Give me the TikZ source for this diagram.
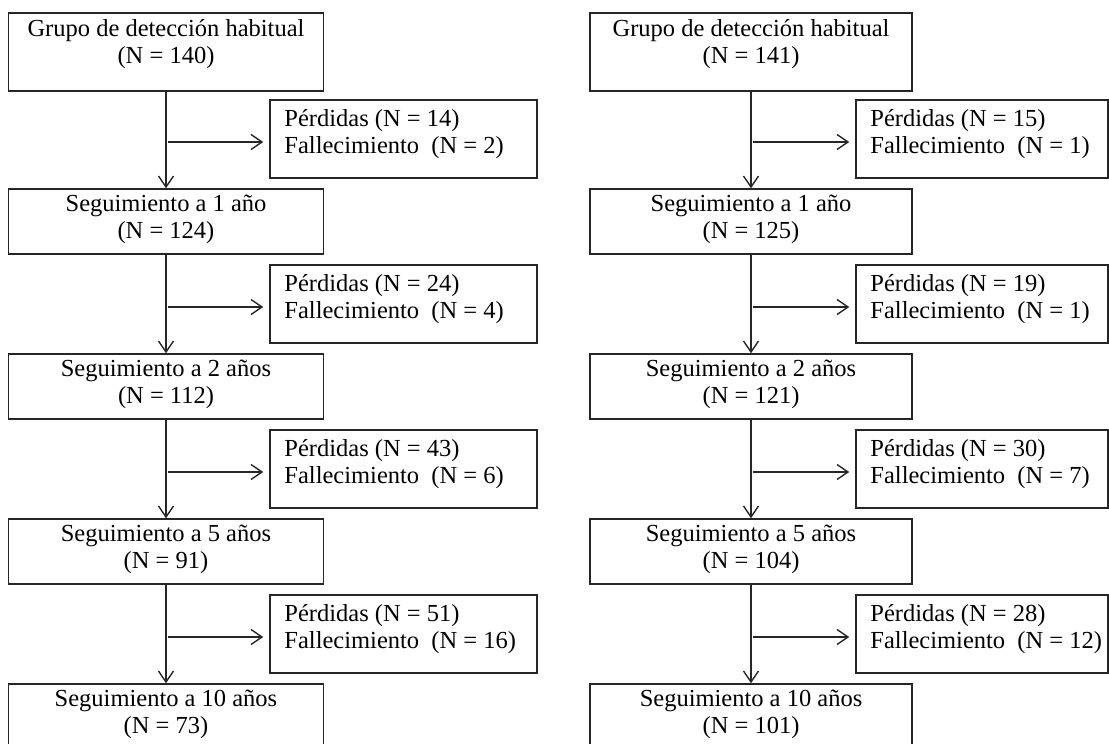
\documentclass[tikz,border=0pt]{standalone}
\usepackage{fontspec}
\setmainfont{Liberation Serif}
\usetikzlibrary{arrows.meta}
\begin{document}
\begin{tikzpicture}[x=1pt,y=-1pt,
  boxline/.style={draw=black!85, line width=1.5pt},
  txt/.style={font=\fontsize{24.5}{27}\selectfont},
  mainbox/.style={boxline, inner sep=0pt, minimum height=65pt},
  maintext/.style={txt, align=center, inner sep=0pt},
  sidebox/.style={boxline, inner sep=0pt, minimum height=78pt},
  sidetext/.style={txt, align=left, anchor=west, inner sep=0pt},
  flow/.style={draw=black!85, line width=1.5pt, -{Straight Barb[length=11pt,width=15pt,line width=1.4pt]}}
]
\useasboundingbox (0,0) rectangle (1109,744);
\clip (0,0) rectangle (1109,744);
% ---------- left column ----------
\node[mainbox, minimum width=315pt, minimum height=78pt] (L1) at (166,52) {};
\node[mainbox, minimum width=315pt] (L2) at (166,221.5) {};
\node[mainbox, minimum width=315pt] (L3) at (166,386.5) {};
\node[mainbox, minimum width=315pt] (L4) at (166,551.5) {};
\node[mainbox, minimum width=315pt] (L5) at (166,716.5) {};
\node[maintext] (LM1) at ([yshift=8pt]L1.center) {Grupo de detección habitual\\(N = 140)};
\node[maintext] (LM2) at ([yshift=2.5pt]L2.center) {Seguimiento a 1 año\\(N = 124)};
\node[maintext] (LM3) at ([yshift=2.5pt]L3.center) {Seguimiento a 2 años\\(N = 112)};
\node[maintext] (LM4) at ([yshift=2.5pt]L4.center) {Seguimiento a 5 años\\(N = 91)};
\node[maintext] (LM5) at ([yshift=2pt]L5.center) {Seguimiento a 10 años\\(N = 73)};
\node[sidebox, minimum width=267pt] (LS1) at (403.5,139) {};
\node[sidebox, minimum width=267pt] (LS2) at (403.5,304) {};
\node[sidebox, minimum width=267pt] (LS3) at (403.5,469) {};
\node[sidebox, minimum width=267pt] (LS4) at (403.5,634) {};
\node[sidetext] (LT1) at ([xshift=15pt,yshift=5pt]LS1.west) {Pérdidas (N = 14)\\Fallecimiento\ \ (N = 2)};
\node[sidetext] (LT2) at ([xshift=15pt,yshift=5pt]LS2.west) {Pérdidas (N = 24)\\Fallecimiento\ \ (N = 4)};
\node[sidetext] (LT3) at ([xshift=15pt,yshift=5pt]LS3.west) {Pérdidas (N = 43)\\Fallecimiento\ \ (N = 6)};
\node[sidetext] (LT4) at ([xshift=15pt,yshift=5pt]LS4.west) {Pérdidas (N = 51)\\Fallecimiento\ \ (N = 16)};
\draw[flow] (L1.south) -- (L2.north);
\draw[flow] (L2.south) -- (L3.north);
\draw[flow] (L3.south) -- (L4.north);
\draw[flow] (L4.south) -- (L5.north);
\coordinate (LA1) at (168,142);
\coordinate (LA2) at (168,307);
\coordinate (LA3) at (168,472);
\coordinate (LA4) at (168,637);
\draw[flow, shorten >=6pt] (LA1) -- (LA1 -| LS1.west);
\draw[flow, shorten >=6pt] (LA2) -- (LA2 -| LS2.west);
\draw[flow, shorten >=6pt] (LA3) -- (LA3 -| LS3.west);
\draw[flow, shorten >=6pt] (LA4) -- (LA4 -| LS4.west);
% ---------- right column ----------
\node[mainbox, minimum width=322pt, minimum height=78pt] (R1) at (751,52) {};
\node[mainbox, minimum width=322pt] (R2) at (751,221.5) {};
\node[mainbox, minimum width=322pt] (R3) at (751,386.5) {};
\node[mainbox, minimum width=322pt] (R4) at (751,551.5) {};
\node[mainbox, minimum width=322pt] (R5) at (751,716.5) {};
\node[maintext] (RM1) at ([yshift=8pt]R1.center) {Grupo de detección habitual\\(N = 141)};
\node[maintext] (RM2) at ([yshift=2.5pt]R2.center) {Seguimiento a 1 año\\(N = 125)};
\node[maintext] (RM3) at ([yshift=2.5pt]R3.center) {Seguimiento a 2 años\\(N = 121)};
\node[maintext] (RM4) at ([yshift=2.5pt]R4.center) {Seguimiento a 5 años\\(N = 104)};
\node[maintext] (RM5) at ([yshift=2pt]R5.center) {Seguimiento a 10 años\\(N = 101)};
\node[sidebox, minimum width=252pt] (RS1) at (982,139) {};
\node[sidebox, minimum width=252pt] (RS2) at (982,304) {};
\node[sidebox, minimum width=252pt] (RS3) at (982,469) {};
\node[sidebox, minimum width=252pt] (RS4) at (982,634) {};
\node[sidetext] (RT1) at ([xshift=15pt,yshift=5pt]RS1.west) {Pérdidas (N = 15)\\Fallecimiento\ \ (N = 1)};
\node[sidetext] (RT2) at ([xshift=15pt,yshift=5pt]RS2.west) {Pérdidas (N = 19)\\Fallecimiento\ \ (N = 1)};
\node[sidetext] (RT3) at ([xshift=15pt,yshift=5pt]RS3.west) {Pérdidas (N = 30)\\Fallecimiento\ \ (N = 7)};
\node[sidetext] (RT4) at ([xshift=15pt,yshift=5pt]RS4.west) {Pérdidas (N = 28)\\Fallecimiento\ \ (N = 12)};
\draw[flow] (R1.south) -- (R2.north);
\draw[flow] (R2.south) -- (R3.north);
\draw[flow] (R3.south) -- (R4.north);
\draw[flow] (R4.south) -- (R5.north);
\coordinate (RA1) at (753,142);
\coordinate (RA2) at (753,307);
\coordinate (RA3) at (753,472);
\coordinate (RA4) at (753,637);
\draw[flow, shorten >=6pt] (RA1) -- (RA1 -| RS1.west);
\draw[flow, shorten >=6pt] (RA2) -- (RA2 -| RS2.west);
\draw[flow, shorten >=6pt] (RA3) -- (RA3 -| RS3.west);
\draw[flow, shorten >=6pt] (RA4) -- (RA4 -| RS4.west);
\end{tikzpicture}
\end{document}
